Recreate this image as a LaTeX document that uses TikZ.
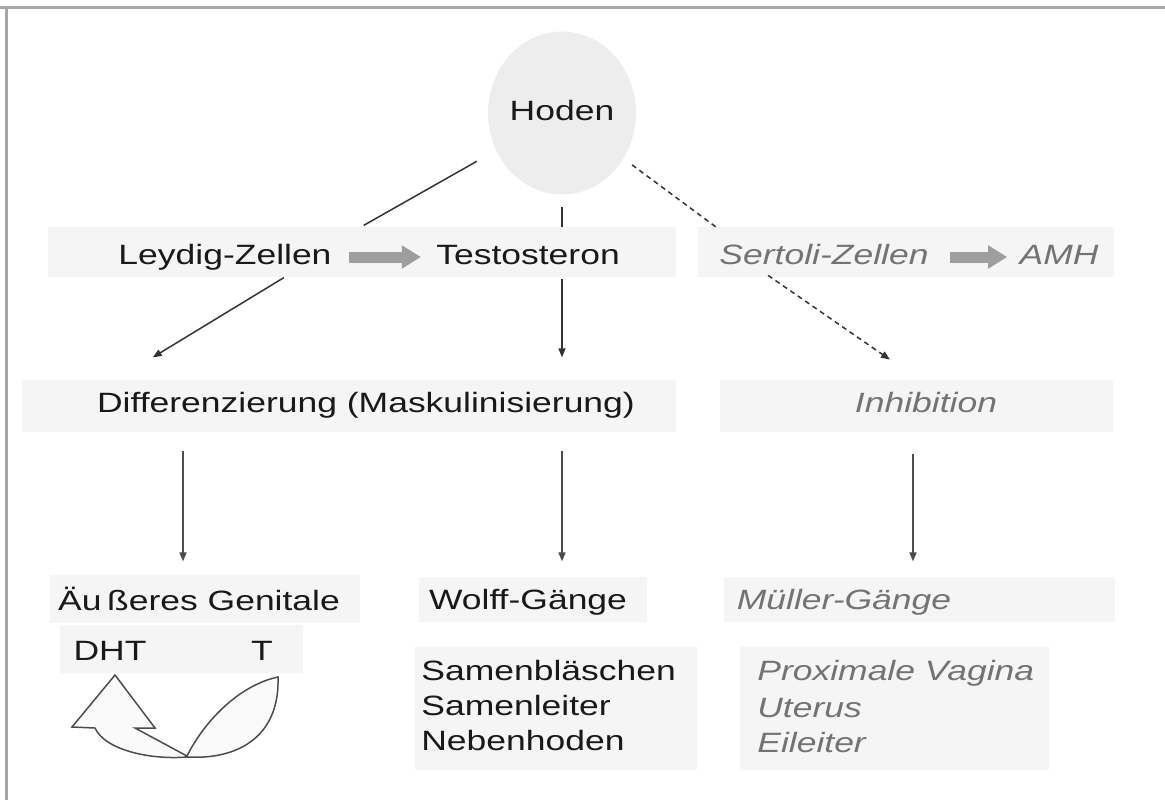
\documentclass[tikz,border=0pt]{standalone}
\usepackage{fontspec}
\setmainfont{Liberation Sans}[FakeStretch=1.27]
\usetikzlibrary{shapes.geometric,arrows.meta}

\newcommand{\diagfont}{\fontsize{15.9}{19.9}\selectfont}

\tikzset{
	txt/.style={inner sep=0pt, text height=4.1mm, text depth=1.2mm, text=black!90, font=\diagfont},
	grau/.style={txt, text=black!55, font=\diagfont\itshape},
	band/.style={fill=black!4},
	linie/.style={draw=black!80, line width=0.3mm},
	arr/.style={linie, -{Triangle[length=1.8mm,width=1.4mm]}},
	gestrichelt/.style={linie, dash pattern=on 1mm off 0.8mm},
	blockpfeil/.style={draw=black!38, line width=2.2mm, -{Triangle[length=3.8mm,width=4.4mm]}},
	hodenform/.style={txt, ellipse, fill=black!7, minimum width=27.4mm, minimum height=32.6mm}
}

\begin{document}
\begin{tikzpicture}[x=0.2mm, y=-0.2mm]

	\useasboundingbox (0,0) rectangle (1165,800);

	% Rahmen
	\draw[black!35, line width=0.6mm] (0,7) -- (1165,7);
	\draw[black!35, line width=0.6mm] (6,7) -- (6,800);

	% Hintergrundbalken
	\fill[band] (48,227) rectangle (676,277);
	\fill[band] (698,227) rectangle (1114,277);
	\fill[band] (22,380) rectangle (676,432);
	\fill[band] (720,380) rectangle (1113,432);
	\fill[band] (50,575) rectangle (360,623);
	\fill[band] (60,625) rectangle (303,673);
	\fill[band] (419,577) rectangle (647,622);
	\fill[band] (724,577) rectangle (1115,622);
	\fill[band] (415,647) rectangle (697,770);
	\fill[band] (740,647) rectangle (1049,770);

	\coordinate (colA) at (183,0);
	\coordinate (colC) at (913,0);

	% Knoten
	\node[hodenform] (hoden) at (562,113) {Hoden};

	\node[txt] (leydig) at (225,257) {Leydig-Zellen};
	\node[txt] (testo) at (528,257) {Testosteron};
	\node[grau] (sertoli) at (824,257) {Sertoli-Zellen};
	\node[grau] (amh) at (1059,257) {AMH};

	\node[txt] (diff) at (366,405) {Differenzierung (Maskulinisierung)};
	\node[grau] (inhib) at (926,405) {Inhibition};

	\node[txt] (aeuss) at (199,603) {Äu\hspace{0.2em}ßeres Genitale};
	\node[txt] (wolff) at (528,602) {Wolff-Gänge};
	\node[grau] (mueller) at (844,602) {Müller-Gänge};

	\node[txt] (dht) at (110,653) {DHT};
	\node[txt] (tnode) at (262,653) {T};

	\node[txt, anchor=west] (sam1) at (421,673) {Samenbläschen};
	\node[txt, anchor=west] (sam2) at (421,708) {Samenleiter};
	\node[txt, anchor=west] (sam3) at (421,743) {Nebenhoden};

	\node[grau, anchor=west] (prox) at (757,673) {Proximale Vagina};
	\node[grau, anchor=west] (uterus) at (757,710) {Uterus};
	\node[grau, anchor=west] (eileiter) at (757,745) {Eileiter};

	% Verbindungen
	\draw[linie, shorten <=4.4mm, shorten >=7.3mm] (hoden) -- (leydig.north east);
	\draw[linie, shorten <=2.4mm, shorten >=3.2mm] (hoden.south) -- (hoden.south |- testo.north);
	\draw[gestrichelt, shorten <=2.1mm, shorten >=5.4mm] (hoden) -- ([xshift=3.8mm]sertoli.north west);

	\draw[blockpfeil, shorten <=3.4mm, shorten >=3mm] (leydig) -- (testo);
	\draw[blockpfeil, shorten <=4.2mm, shorten >=2.4mm] (sertoli) -- (amh);

	\draw[arr, shorten >=13.1mm] ([xshift=-9.6mm,yshift=-1.4mm]leydig.south east) -- (diff.north west);
	\draw[arr, shorten <=1.6mm, shorten >=6.8mm] (hoden.south |- testo.south) -- (hoden.south |- diff.north);
	\draw[gestrichelt, -{Triangle[length=1.8mm,width=1.4mm]}, shorten <=1.7mm, shorten >=11.2mm] ([xshift=8.4mm]sertoli.south west) -- ([xshift=2mm]inhib.north);

	\draw[arr, draw=black!70, shorten <=6.4mm, shorten >=5.6mm] (diff.south -| colA) -- (aeuss.north -| colA);
	\draw[arr, draw=black!70, shorten <=6.4mm, shorten >=5.4mm] (diff.south -| hoden.south) -- (wolff.north -| hoden.south);
	\draw[arr, draw=black!70, shorten <=7mm, shorten >=5.4mm] (inhib.south -| colC) -- (mueller.north -| colC);

	% Rueckkopplung DHT / T
	\draw[draw=black!70, fill=black!2, line width=0.3mm]
		(115,675) -- (155,728) -- (135,728) -- (187,756)
		.. controls (205,720) and (240,685) .. (278,677)
		.. controls (280,735) and (240,760) .. (187,757)
		.. controls (150,760) and (105,750) .. (95,728)
		-- (72,727) -- cycle;

\end{tikzpicture}
\end{document}
